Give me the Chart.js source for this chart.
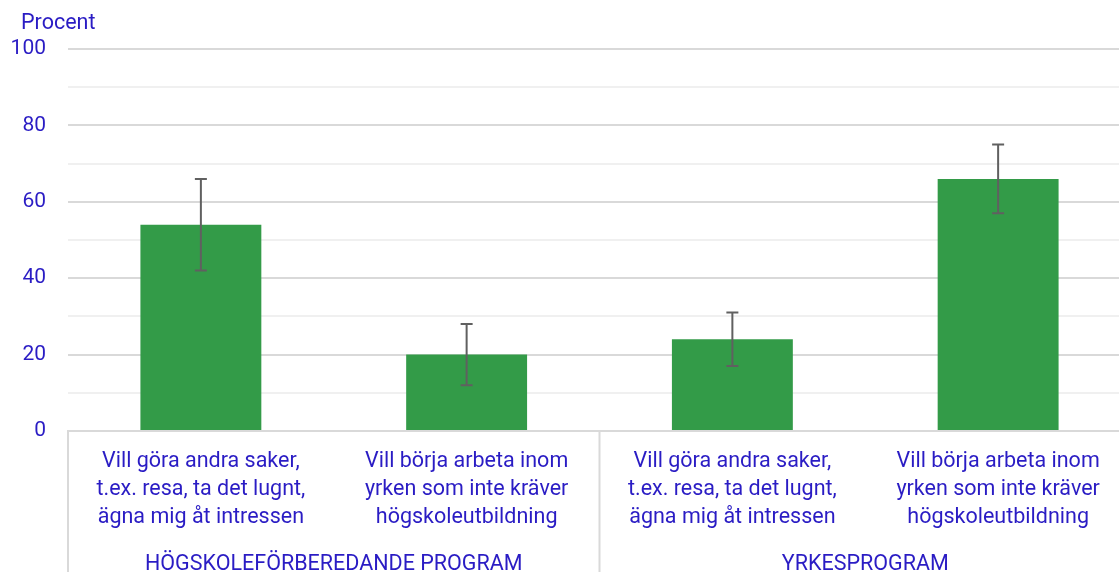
<!DOCTYPE html>
<html lang="sv">
<head>
    <meta charset="UTF-8">
    <title>Procent – skäl efter program</title>
    <script src="https://cdn.jsdelivr.net/npm/chart.js"></script>
    <style>
        body {
            margin: 0;
            background: #ffffff;
            overflow: hidden;
        }
        /* plot runs a bit past the right edge of the window, as in the original */
        #wrap {
            width: 1131px;
            height: 572px;
        }
    </style>
</head>
<body>
    <div id="wrap"><canvas id="barChart"></canvas></div>

    <script>
        // data
        const categories = [
            ['Vill göra andra saker,', 't.ex. resa, ta det lugnt,', 'ägna mig åt intressen'],
            ['Vill börja arbeta inom', 'yrken som inte kräver', 'högskoleutbildning'],
            ['Vill göra andra saker,', 't.ex. resa, ta det lugnt,', 'ägna mig åt intressen'],
            ['Vill börja arbeta inom', 'yrken som inte kräver', 'högskoleutbildning']
        ];
        const groups = ['HÖGSKOLEFÖRBEREDANDE PROGRAM', 'YRKESPROGRAM'];
        const values = [54, 20, 24, 66];
        const errLow = [42, 12, 17, 57];
        const errHigh = [66, 28, 31, 75];
        const yTicks = [0, 20, 40, 60, 80, 100];

        const textColor = '#2a1cc4';
        const font = "Roboto, 'Noto Sans', sans-serif";

        // error bars + group labels + separators
        const extras = {
            id: 'extras',
            afterDatasetsDraw(chart) {
                const { ctx, scales: { x, y } } = chart;
                ctx.save();
                ctx.strokeStyle = '#606060';
                ctx.lineWidth = 2;
                values.forEach((v, i) => {
                    const px = x.getPixelForValue(i);
                    const top = y.getPixelForValue(errHigh[i]);
                    const bot = y.getPixelForValue(errLow[i]);
                    ctx.beginPath();
                    ctx.moveTo(px, top); ctx.lineTo(px, bot);
                    ctx.moveTo(px - 6, top); ctx.lineTo(px + 6, top);
                    ctx.moveTo(px - 6, bot); ctx.lineTo(px + 6, bot);
                    ctx.stroke();
                });
                ctx.restore();
            },
            afterDraw(chart) {
                const { ctx, chartArea, scales: { x } } = chart;
                const half = (x.getPixelForValue(1) - x.getPixelForValue(0)) / 2;
                ctx.save();
                // vertical separators under the axis
                ctx.strokeStyle = '#d9d9d9';
                ctx.lineWidth = 2;
                [0, 2, 4].forEach(i => {
                    const px = x.getPixelForValue(i) - half;
                    ctx.beginPath();
                    ctx.moveTo(px, chartArea.bottom);
                    ctx.lineTo(px, chart.height);
                    ctx.stroke();
                });
                // group labels
                ctx.fillStyle = textColor;
                ctx.font = '21.5px ' + font;
                ctx.textAlign = 'center';
                ctx.textBaseline = 'alphabetic';
                groups.forEach((g, gi) => {
                    const px = (x.getPixelForValue(gi * 2) + x.getPixelForValue(gi * 2 + 1)) / 2;
                    ctx.fillText(g, px, 570);
                });
                // axis unit
                ctx.textAlign = 'left';
                ctx.textBaseline = 'middle';
                ctx.fillText('Procent', 21, 24);
                ctx.restore();
            }
        };

        const ctx = document.getElementById('barChart').getContext('2d');
        new Chart(ctx, {
            type: 'bar',
            data: {
                labels: categories,
                datasets: [{
                    data: values,
                    backgroundColor: '#339b48',
                    categoryPercentage: 1,
                    barPercentage: 0.455
                }]
            },
            options: {
                responsive: true,
                maintainAspectRatio: false,
                animation: false,
                layout: { padding: { top: 49, left: 8, right: 0, bottom: 0 } },
                plugins: {
                    legend: { display: false },
                    tooltip: { enabled: false }
                },
                scales: {
                    x: {
                        grid: { display: false, drawTicks: false },
                        border: { display: true, color: '#d9d9d9', width: 2 },
                        ticks: {
                            color: textColor,
                            padding: 17,
                            maxRotation: 0,
                            autoSkip: false,
                            font: { family: font, size: 21.5, lineHeight: '28px' }
                        },
                        afterFit(scale) { scale.height = 141; }
                    },
                    y: {
                        min: 0,
                        max: 100,
                        grid: {
                            drawTicks: false,
                            lineWidth: 2,
                            color: c => (yTicks.includes(c.tick.value) ? '#d9d9d9' : '#f0f0f0')
                        },
                        border: { display: false },
                        ticks: {
                            stepSize: 10,
                            padding: 22,
                            color: textColor,
                            font: { family: font, size: 21 },
                            callback: v => (yTicks.includes(v) ? v : '')
                        },
                        afterFit(scale) { scale.width = 60; }
                    }
                }
            },
            plugins: [extras]
        });
    </script>
</body>
</html>
